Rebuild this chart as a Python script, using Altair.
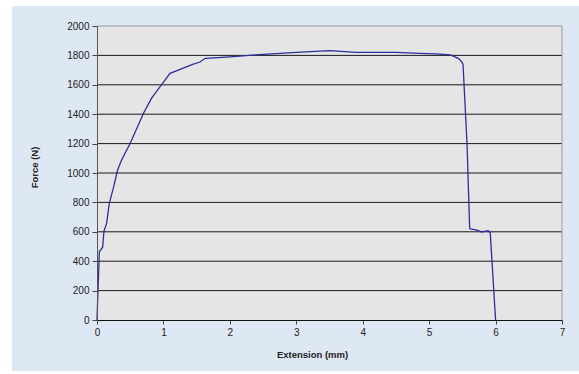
import altair as alt
import pandas as pd

# Extension (mm) and Force (N)
extension = [0, 0.035, 0.085, 0.105, 0.145, 0.185, 0.245, 0.31, 0.37, 0.50, 0.70, 0.82,
             0.95, 1.10, 1.25, 1.45, 1.55, 1.63, 2.0, 2.45, 3.0, 3.5, 3.9, 4.5, 4.86,
             5.1, 5.32, 5.44, 5.49, 5.51, 5.57, 5.61, 5.62, 5.72, 5.79, 5.85, 5.89,
             5.92, 6.0]
force = [0, 464, 495, 605, 657, 793, 895, 1020, 1088, 1202, 1406, 1508,
         1587, 1678, 1705, 1741, 1755, 1780, 1790, 1805, 1820, 1833, 1820, 1820, 1814,
         1810, 1803, 1780, 1757, 1740, 1202, 624, 619, 612, 599, 605, 607,
         594, 0]

x_ticks = [0, 1, 2, 3, 4, 5, 6, 7]
y_ticks = [0, 200, 400, 600, 800, 1000, 1200, 1400, 1600, 1800, 2000]
grid_values = [200, 400, 600, 800, 1000, 1200, 1400, 1600, 1800]

df = pd.DataFrame({"ext": extension, "force": force, "order": range(len(extension))})
grid_df = pd.DataFrame({"g": grid_values})

W, H = 465, 294
FONT = "Liberation Sans"

xscale = alt.Scale(domain=[0, 7], nice=False, zero=False)
yscale = alt.Scale(domain=[0, 2000], nice=False)

xaxis = alt.Axis(values=x_ticks, format="d", title="Extension (mm)", grid=False,
                 tickCount=20,
                 labelFont=FONT, labelFontSize=10, labelColor="#222",
                 labelOverlap=False, labelFlush=False, labelBound=False,
                 tickSize=4, tickColor="#444", domainColor="#111", labelPadding=3,
                 titleFont=FONT, titleFontSize=9.5, titleFontWeight="bold", titleColor="#222",
                 titleX=215, titleY=34, titleBaseline="middle",
                 titleAlign="center", zindex=2)
yaxis = alt.Axis(values=y_ticks, format="d", title="Force (N)", grid=False,
                 tickCount=20,
                 labelFont=FONT, labelFontSize=10, labelColor="#222",
                 labelOverlap=False, labelFlush=False, labelBound=False,
                 tickSize=5, tickColor="#444", domainColor="#555", labelPadding=3,
                 titleFont=FONT, titleFontSize=9.5, titleFontWeight="bold", titleColor="#222",
                 titleX=-63, titleY=141, titleAngle=-90, titleAlign="center",
                 titleBaseline="middle", zindex=2)

one = alt.Data(values=[{}])

panel = alt.Chart(one).mark_rect(color="#dee8f4").encode(
    x=alt.value(-85), x2=alt.value(482), y=alt.value(-20), y2=alt.value(345)
)

plotfill = alt.Chart(one).mark_rect(color="#e5e5e5").encode(
    x=alt.datum(0, scale=xscale, axis=xaxis), x2=alt.datum(7),
    y=alt.datum(0, scale=yscale, axis=yaxis), y2=alt.datum(2000)
)

grid = alt.Chart(grid_df).mark_rule(color="#1a1a1a", strokeWidth=1).encode(
    y=alt.Y("g:Q", scale=yscale, axis=yaxis)
)

border_top = alt.Chart(one).mark_rule(color="#9a9a9a", strokeWidth=1).encode(
    y=alt.datum(2000, scale=yscale, axis=yaxis), x=alt.datum(0, scale=xscale, axis=xaxis),
    x2=alt.datum(7)
)
border_right = alt.Chart(one).mark_rule(color="#9a9a9a", strokeWidth=1).encode(
    x=alt.datum(7, scale=xscale, axis=xaxis), y=alt.datum(0, scale=yscale, axis=yaxis),
    y2=alt.datum(2000)
)

line = alt.Chart(df).mark_line(color="#2d2d9c", strokeWidth=1.3).encode(
    x=alt.X("ext:Q", scale=xscale, axis=xaxis),
    y=alt.Y("force:Q", scale=yscale, axis=yaxis),
    order="order:Q",
)

chart = alt.layer(panel, plotfill, grid, border_top, border_right, line).properties(
    width=W, height=H,
    autosize=alt.AutoSizeParams(type="none"),
    padding={"left": 97, "top": 26, "right": 17, "bottom": 54},
    background="white",
).configure_view(stroke=None)

chart.save("out.html", embed_options={"renderer": "svg", "actions": False})
